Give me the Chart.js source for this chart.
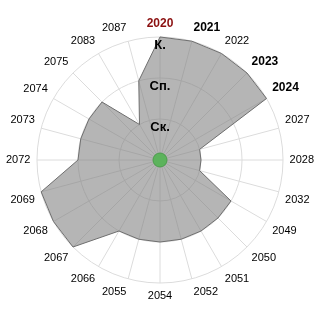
<!DOCTYPE html>
<html><head><meta charset="utf-8">
<script src="https://cdn.jsdelivr.net/npm/chart.js@4"></script>
<style>html,body{margin:0;padding:0;background:#fff}#wrap{width:320px;height:320px}</style>
</head><body><div id="wrap"><canvas id="c" width="320" height="320"></canvas></div>
<script>
const categories = ['2020','2021','2022','2023','2024','2027','2028','2032','2049','2050','2051','2052','2054','2055','2066','2067','2068','2069','2072','2073','2074','2075','2083','2087'];
const levels = [3,3,3,3,3,1,1,1,2,2,2,2,2,2,2,3,3,3,2,2,2,2,1,2];
const centerMark = [0];
const tickLabels = {1:'Ск.', 2:'Сп.', 3:'К.'};
const boldCats = ['2020','2021','2023','2024'];
const highlightCat = '2020';

new Chart(document.getElementById('c'), {
  type: 'radar',
  data: {
    labels: categories,
    datasets: [
      {
        data: levels,
        backgroundColor: 'rgba(128,128,128,0.58)',
        borderColor: '#6e6e6e',
        borderWidth: 1,
        pointRadius: 0,
        fill: true,
        order: 2
      },
      {
        data: centerMark,
        backgroundColor: '#5cb35c',
        borderColor: '#4c9c4c',
        borderWidth: 1,
        pointRadius: 7,
        showLine: false,
        fill: false,
        order: 1
      }
    ]
  },
  options: {
    responsive: false,
    animation: false,
    devicePixelRatio: 1,
    layout: { padding: 6 },
    plugins: { legend: { display: false }, tooltip: { enabled: false } },
    scales: {
      r: {
        min: 0, max: 3,
        startAngle: 0,
        grid: { circular: true, color: '#dcdcdc' },
        angleLines: { color: '#dcdcdc' },
        ticks: {
          stepSize: 1,
          z: 1,
          showLabelBackdrop: false,
          backdropPadding: 0,
          color: '#000',
          font: { family: 'Liberation Sans, Arial', size: 13, weight: 'bold', lineHeight: 0.68 },
          callback: v => tickLabels[v] ? ['', tickLabels[v]] : ''
        },
        pointLabels: {
          padding: 0,
          color: ctx => categories[ctx.index] === highlightCat ? '#8b1010' : '#000',
          font: ctx => boldCats.includes(categories[ctx.index])
            ? { family: 'Liberation Sans, Arial', size: 12, weight: 'bold' }
            : { family: 'Liberation Sans, Arial', size: 11 }
        }
      }
    }
  }
});
</script></body></html>
